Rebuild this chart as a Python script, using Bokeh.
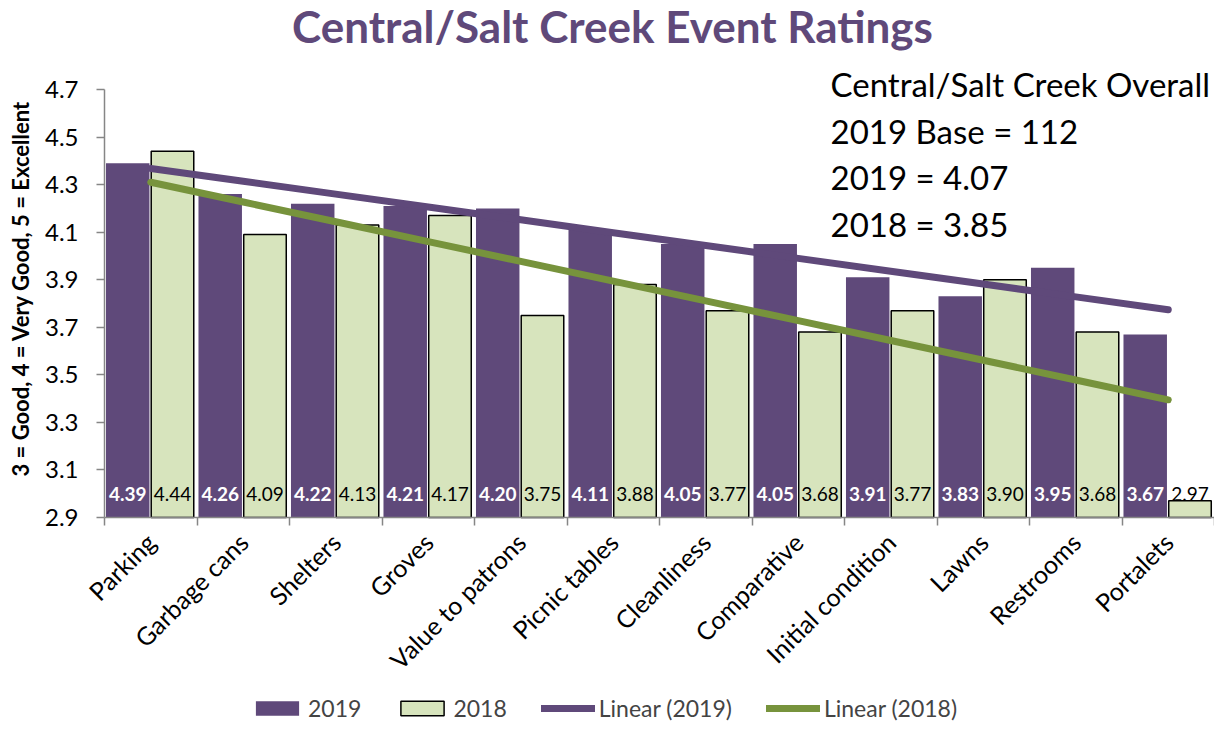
import numpy as np
from bokeh.plotting import figure
from bokeh.models import (FixedTicker, Legend, LegendItem, Label, ColumnDataSource,
                          PrintfTickFormatter)
from bokeh.core.properties import value
from bokeh.embed import file_html
from bokeh.resources import INLINE

# ---------------- data ----------------
categories = ["Parking", "Garbage cans", "Shelters", "Groves", "Value to patrons",
              "Picnic tables", "Cleanliness", "Comparative", "Initial condition",
              "Lawns", "Restrooms", "Portalets"]
values_2019 = [4.39, 4.26, 4.22, 4.21, 4.20, 4.11, 4.05, 4.05, 3.91, 3.83, 3.95, 3.67]
values_2018 = [4.44, 4.09, 4.13, 4.17, 3.75, 3.88, 3.77, 3.68, 3.77, 3.90, 3.68, 2.97]
y_ticks = [2.9, 3.1, 3.3, 3.5, 3.7, 3.9, 4.1, 4.3, 4.5, 4.7]
title_text = "Central/Salt Creek Event Ratings"
y_label = "3 = Good, 4 = Very Good, 5 = Excellent"
overall_lines = ["Central/Salt Creek Overall", "2019 Base = 112", "2019 = 4.07", "2018 = 3.85"]

PURPLE = "#5F497A"
GREEN_FILL = "#D7E4BD"
GREEN_LINE = "#77933C"
AXIS_GREY = "#868686"
FONT = "Lato"

n = len(categories)
xs = np.arange(1, n + 1)

# The frame fills the whole figure; both axes are pinned (fixed_location) and the
# value axis is bounded to 2.9 .. 4.7, so every text sits inside the frame.
W, H = 1214, 722
LEFT, TOP, BOTTOM = 104, 89, 517
py_unit = (BOTTOM - TOP) / (y_ticks[-1] - y_ticks[0])
px_unit = (W - LEFT) / n
x_lo = 0.5 - LEFT / px_unit
y_lo = y_ticks[0] - (H - BOTTOM) / py_unit
y_hi = y_ticks[-1] + TOP / py_unit

p = figure(width=W, height=H, output_backend="svg", toolbar_location=None,
           x_range=(x_lo, n + 0.5), y_range=(y_lo, y_hi),
           min_border_left=0, min_border_right=0, min_border_top=0, min_border_bottom=0)
p.outline_line_color = None
p.xgrid.grid_line_color = None
p.ygrid.grid_line_color = None


def py(pix):
    """pixel row (from top) -> value on the y scale"""
    return y_ticks[-1] + (TOP - pix) / py_unit


def px(pix):
    """pixel column (from left) -> value on the x scale"""
    return 0.5 + (pix - LEFT) / px_unit


# bars
src = ColumnDataSource(dict(
    x19=xs - 0.249, x18=xs + 0.235, v19=values_2019, v18=values_2018,
    l19=["%.2f" % v for v in values_2019], l18=["%.2f" % v for v in values_2018],
    ylab=[3.0] * n))
r19 = p.vbar(x="x19", top="v19", bottom=y_ticks[0], width=0.47, source=src,
             fill_color=PURPLE, line_color=None)
r18 = p.vbar(x="x18", top="v18", bottom=y_ticks[0], width=0.46, source=src,
             fill_color=GREEN_FILL, line_color="black", line_width=1.5)

# linear trendlines (least squares of each series)
k19, b19 = np.polyfit(xs, values_2019, 1)
k18, b18 = np.polyfit(xs, values_2018, 1)
t19 = p.line(xs, k19 * xs + b19, line_color=PURPLE, line_width=7, line_cap="round")
t18 = p.line(xs, k18 * xs + b18, line_color=GREEN_LINE, line_width=7, line_cap="round")

# data labels
p.text(x="x19", y="ylab", text="l19", source=src, text_align="center",
       text_baseline="middle", text_font=value(FONT), text_font_size="19px",
       text_font_style="bold", text_color="white")
p.text(x="x18", y="ylab", text="l18", source=src, text_align="center",
       text_baseline="middle", text_font=value(FONT), text_font_size="19px",
       text_color="black")

# value axis, pinned at the left edge of the first category
yax = p.yaxis[0]
yax.fixed_location = 0.5
yax.ticker = FixedTicker(ticks=y_ticks)
yax.bounds = (y_ticks[0], y_ticks[-1])
yax.formatter = PrintfTickFormatter(format="%.1f")
yax.major_label_text_font = FONT
yax.major_label_text_font_size = "24px"
yax.major_label_text_color = "black"
yax.major_tick_out = 8
yax.major_tick_in = 0
yax.minor_tick_line_color = None
yax.axis_line_color = AXIS_GREY
yax.axis_line_width = 1.5
yax.major_tick_line_color = AXIS_GREY
yax.major_tick_line_width = 1.5
yax.major_label_standoff = 18

# category axis, pinned at the 2.9 baseline
xax = p.xaxis[0]
xax.fixed_location = y_ticks[0]
label_ticks = [float(v) for v in xs]
overrides = {}
for t, c in zip(label_ticks, categories):
    overrides[int(t)] = c
    overrides["%g" % t] = c
xax.ticker = FixedTicker(ticks=label_ticks,
                         minor_ticks=[i + 0.5 for i in range(n + 1)])
xax.bounds = (0.5, n + 0.5)
xax.major_label_overrides = overrides
xax.major_label_orientation = np.pi / 4
xax.major_label_text_font = FONT
xax.major_label_text_font_size = "25px"
xax.major_label_text_color = "black"
xax.major_tick_line_color = None
xax.major_tick_out = 6
xax.major_label_standoff = 12
xax.minor_tick_out = 8
xax.minor_tick_in = 0
xax.minor_tick_line_color = AXIS_GREY
xax.minor_tick_line_width = 1.5
xax.axis_line_color = AXIS_GREY
xax.axis_line_width = 1.5

# value-axis title
p.add_layout(Label(x=px(20), y=py(288), text=y_label, angle=np.pi / 2,
                   text_font=FONT, text_font_size="22px", text_font_style="bold",
                   text_color="black", text_align="center", text_baseline="middle"))

# chart title
p.add_layout(Label(x=px(612), y=py(25), text=title_text, text_font=FONT,
                   text_font_size="44px", text_font_style="bold", text_color=PURPLE,
                   text_align="center", text_baseline="alphabetic"))

# overall text block
for t, base in zip(overall_lines, [83, 130, 176, 223]):
    p.add_layout(Label(x=px(830), y=py(base), text=t, text_font=FONT,
                       text_font_size="33px", text_baseline="alphabetic",
                       text_color="black"))

# legend (location is measured from the frame's bottom-left, i.e. the figure's)
legend = Legend(items=[LegendItem(label="2019", renderers=[r19]),
                       LegendItem(label="2018", renderers=[r18]),
                       LegendItem(label="Linear (2019)", renderers=[t19]),
                       LegendItem(label="Linear (2018)", renderers=[t18])],
                orientation="horizontal", location=(250, 0),
                label_text_font=FONT, label_text_font_size="23px",
                glyph_width=54, glyph_height=18, spacing=34, label_standoff=4,
                border_line_color=None, background_fill_alpha=0,
                margin=0, padding=0)
p.add_layout(legend)

open("out.html", "w").write(file_html(p, INLINE))
